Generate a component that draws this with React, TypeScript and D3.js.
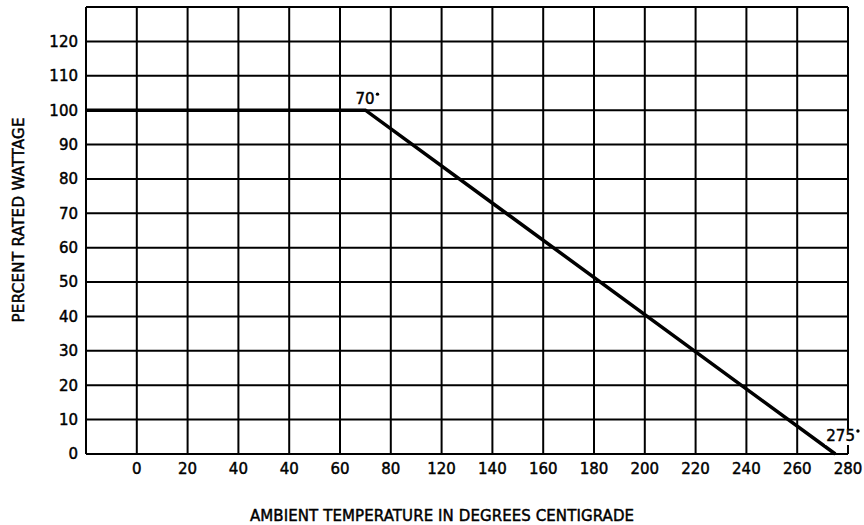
import { useEffect, useRef } from 'react';
import * as d3 from 'd3';

// Tick labels as printed on the drawing (the x row really does repeat "40" and skip "100")
const X_LABELS: string[] = ['0', '20', '40', '40', '60', '80', '120', '140', '160', '180', '200', '220', '240', '260', '280'];
const Y_TICKS: number[] = [0, 10, 20, 30, 40, 50, 60, 70, 80, 90, 100, 110, 120];

// Derating curve: flat at 100% up to the knee, then straight down to zero
const CURVE_TEMPS: number[] = [70, 275];
const CURVE_PCT: number[] = [100, 0];
const CURVE_LABELS: string[] = ['70', '275'];

const X_TITLE = 'AMBIENT TEMPERATURE IN DEGREES CENTIGRADE';
const Y_TITLE = 'PERCENT RATED WATTAGE';

interface Margin {
  top: number;
  right: number;
  bottom: number;
  left: number;
}

export default function App() {
  const svgRef = useRef<SVGSVGElement | null>(null);

  useEffect(() => {
    if (!svgRef.current) return;

    const svg = d3.select(svgRef.current);
    svg.selectAll('*').remove();

    const width = 864;
    const height = 525;
    const margin: Margin = { top: 7, right: 16, bottom: 71, left: 86 };
    const innerW = width - margin.left - margin.right;
    const innerH = height - margin.top - margin.bottom;
    const font = "'DejaVu Sans', sans-serif";

    const g = svg.append('g').attr('transform', `translate(${margin.left},${margin.top})`);

    // x runs over grid columns; one empty column sits left of the first label
    const xIdx = d3.scaleLinear().domain([-1, X_LABELS.length - 1]).range([0, innerW]);
    const y = d3.scaleLinear().domain([0, 130]).range([innerH, 0]);

    // temperature scale built from the labelled columns (from the second "40" on, where values increase)
    const firstInc = 3;
    const tempDomain = X_LABELS.slice(firstInc).map(Number);
    const tempRange = X_LABELS.slice(firstInc).map((_, i) => xIdx(i + firstInc));
    const xT = d3.scaleLinear().domain(tempDomain).range(tempRange);

    // grid
    const grid = g.append('g').attr('stroke', '#000').attr('stroke-width', 2);
    grid.selectAll('line.v')
      .data(d3.range(-1, X_LABELS.length))
      .join('line')
      .attr('class', 'v')
      .attr('x1', d => xIdx(d)).attr('x2', d => xIdx(d))
      .attr('y1', 0).attr('y2', innerH);
    grid.selectAll('line.h')
      .data([...Y_TICKS, 130])
      .join('line')
      .attr('class', 'h')
      .attr('x1', 0).attr('x2', innerW)
      .attr('y1', d => y(d)).attr('y2', d => y(d));

    // slightly heavier text, like the plotted lettering
    const ink = (sel: d3.Selection<any, any, any, any>) =>
      sel.attr('font-family', font).attr('font-size', 15).attr('fill', '#000')
        .attr('stroke', '#000').attr('stroke-width', 0.45);

    // y tick labels
    g.append('g')
      .selectAll('text')
      .data(Y_TICKS)
      .join('text')
      .attr('x', -8)
      .attr('y', d => y(d))
      .attr('dy', '0.36em')
      .attr('text-anchor', 'end')
      .call(ink)
      .text(d => d);

    // x tick labels
    g.append('g')
      .selectAll('text')
      .data(X_LABELS)
      .join('text')
      .attr('x', (_, i) => xIdx(i))
      .attr('y', innerH + 20)
      .attr('text-anchor', 'middle')
      .call(ink)
      .text(d => d);

    // derating line, starting at the left edge of the grid
    const pts: [number, number][] = [[0, y(CURVE_PCT[0])], ...CURVE_TEMPS.map((t, i) => [xT(t), y(CURVE_PCT[i])] as [number, number])];
    g.append('path')
      .attr('d', d3.line()(pts))
      .attr('fill', 'none')
      .attr('stroke', '#000')
      .attr('stroke-width', 3.5)
      .attr('stroke-linejoin', 'miter');

    // knee / end labels with degree dots
    const lbl = g.append('g');
    CURVE_TEMPS.forEach((t, i) => {
      const px = xT(t);
      const py = y(CURVE_PCT[i]);
      const isEnd = i === CURVE_TEMPS.length - 1;
      const tx = isEnd ? px - 9 : px - 10;
      const ty = isEnd ? py - 13 : py - 6;
      const txt = lbl.append('text')
        .attr('x', tx)
        .attr('y', ty)
        .call(ink)
        .text(CURVE_LABELS[i]);
      const bb = (txt.node() as SVGTextElement).getBBox();
      if (isEnd) {
        lbl.insert('rect', 'text')
          .attr('x', bb.x - 1).attr('y', bb.y + 2)
          .attr('width', bb.width + 8).attr('height', bb.height - 2)
          .attr('fill', '#fff');
      }
      lbl.append('circle')
        .attr('cx', bb.x + bb.width + 3)
        .attr('cy', bb.y + 4)
        .attr('r', 1.7)
        .attr('fill', '#000');
    });

    // axis titles
    svg.append('text')
      .attr('x', 442)
      .attr('y', 521)
      .attr('text-anchor', 'middle')
      .call(ink)
      .attr('textLength', 384)
      .attr('lengthAdjust', 'spacing')
      .text(X_TITLE);

    svg.append('text')
      .attr('transform', 'translate(24,220) rotate(-90)')
      .attr('text-anchor', 'middle')
      .call(ink)
      .attr('textLength', 205)
      .attr('lengthAdjust', 'spacing')
      .text(Y_TITLE);
  }, []);

  return (
    <svg
      ref={svgRef}
      width={864}
      height={525}
      style={{ position: 'absolute', left: 0, top: 0, background: '#fff' }}
    />
  );
}
